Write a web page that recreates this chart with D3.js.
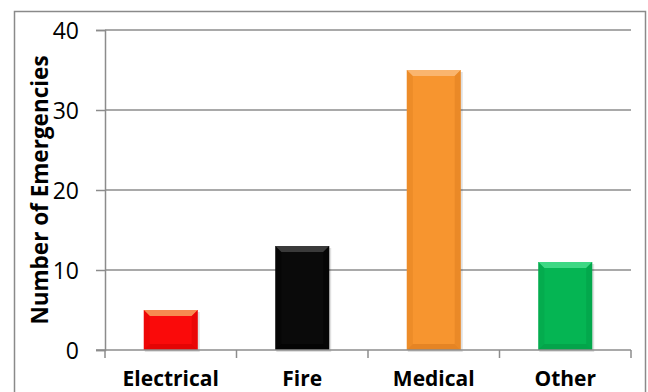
<!DOCTYPE html>
<html><head><meta charset="utf-8">
<script src="https://cdn.jsdelivr.net/npm/d3@7"></script>
<style>body{margin:0;background:#fff}svg{display:block}</style>
</head><body>
<script>
const categories = ["Electrical", "Fire", "Medical", "Other"];
const values = [5, 13, 35, 11];
const yTicks = [0, 10, 20, 30, 40];
const colors = ["#FA0A0A", "#0A0A0A", "#F7952F", "#05B553"];
const topColors = ["#F78A50", "#3A3A3A", "#FAB56E", "#3ED884"];
const darkColors = ["#D60000", "#000000", "#D97A1E", "#039A45"];

const W = 648, H = 392;
const svg = d3.select("body").append("svg").attr("width", W).attr("height", H);

// outer border
svg.append("rect").attr("x", 14.5).attr("y", 11.5).attr("width", 631).attr("height", 400)
  .attr("fill", "#fff").attr("stroke", "#8a8a8a").attr("stroke-width", 1.5);

const x0 = 105, x1 = 631, yTop = 30, yBot = 350;
const x = d3.scaleBand().domain(categories).range([x0, x1]).paddingInner(0.59).paddingOuter(0.295);
const y = d3.scaleLinear().domain([0, 40]).range([yBot, yTop]);

// gridlines
svg.append("g").selectAll("line").data(yTicks.filter(d => d > 0)).join("line")
  .attr("x1", x0).attr("x2", x1).attr("y1", d => y(d)).attr("y2", d => y(d))
  .attr("stroke", "#8c8c8c").attr("stroke-width", 1.5);

// y axis
const yAxis = svg.append("g").attr("transform", `translate(${x0},0)`)
  .call(d3.axisLeft(y).tickValues(yTicks).tickSize(9).tickPadding(17));
yAxis.select(".domain").attr("stroke", "#8c8c8c").attr("stroke-width", 1.5);
yAxis.selectAll(".tick line").attr("stroke", "#8c8c8c").attr("stroke-width", 1.5);
yAxis.selectAll(".tick text").attr("font-family", "'Open Sans'").attr("font-size", 23)
  .attr("fill", "#000").attr("dy", "0.36em");

// bars with bevel
const bars = svg.append("g").selectAll("g").data(categories).join("g");
const b = 6;
bars.each(function(c, i) {
  const g = d3.select(this);
  const bx = x(c), bw = x.bandwidth(), by = y(values[i]), bh = yBot - y(values[i]);
  g.append("rect").attr("x", bx + 1).attr("y", by + 2).attr("width", bw + 1).attr("height", bh)
    .attr("fill", "#000").attr("opacity", 0.12);
  g.append("rect").attr("x", bx).attr("y", by).attr("width", bw).attr("height", bh).attr("fill", colors[i]);
  const pts = (arr) => arr.map(p => p.join(",")).join(" ");
  g.append("polygon").attr("points", pts([[bx, by], [bx + bw, by], [bx + bw - b, by + b], [bx + b, by + b]]))
    .attr("fill", topColors[i]);
  g.append("polygon").attr("points", pts([[bx, by + bh], [bx + bw, by + bh], [bx + bw - b, by + bh - b], [bx + b, by + bh - b]]))
    .attr("fill", darkColors[i]).attr("opacity", 0.6);
  g.append("polygon").attr("points", pts([[bx, by], [bx + b, by + b], [bx + b, by + bh - b], [bx, by + bh]]))
    .attr("fill", darkColors[i]).attr("opacity", 0.35);
  g.append("polygon").attr("points", pts([[bx + bw, by], [bx + bw - b, by + b], [bx + bw - b, by + bh - b], [bx + bw, by + bh]]))
    .attr("fill", darkColors[i]).attr("opacity", 0.45);
});

// x axis line and boundary ticks
svg.append("line").attr("x1", x0 - 9).attr("x2", x1).attr("y1", yBot).attr("y2", yBot)
  .attr("stroke", "#8c8c8c").attr("stroke-width", 1.5);
svg.append("g").selectAll("line").data(d3.range(categories.length + 1)).join("line")
  .attr("x1", k => x0 + k * (x1 - x0) / categories.length).attr("x2", k => x0 + k * (x1 - x0) / categories.length)
  .attr("y1", yBot).attr("y2", yBot + 8).attr("stroke", "#8c8c8c").attr("stroke-width", 1.5);

// category labels
const xAxis = svg.append("g").attr("transform", `translate(0,${yBot})`)
  .call(d3.axisBottom(x).tickSize(0).tickPadding(0));
xAxis.select(".domain").remove();
xAxis.selectAll(".tick text").attr("font-family", "'Open Sans'").attr("font-size", 21)
  .attr("font-weight", "bold").attr("fill", "#000").attr("y", 35.5).attr("dy", 0);

// y title
svg.append("text").attr("transform", "translate(48,190) rotate(-90)")
  .attr("text-anchor", "middle").attr("font-family", "'Open Sans'").attr("font-size", 22.5)
  .attr("font-weight", "bold").attr("fill", "#000").text("Number of Emergencies");
</script>
</body></html>
